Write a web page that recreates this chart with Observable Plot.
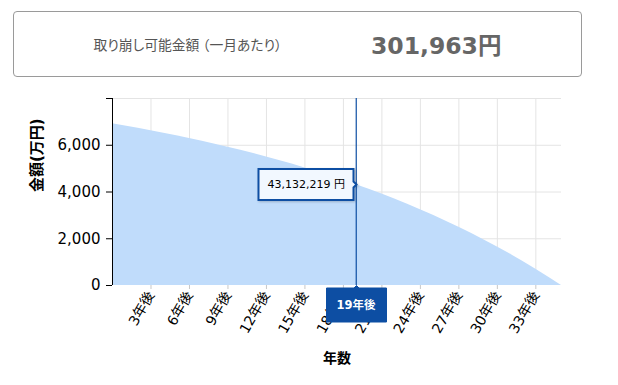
<!DOCTYPE html>
<html>
<head>
<meta charset="utf-8">
<script src="https://cdn.jsdelivr.net/npm/d3@7"></script>
<script src="https://cdn.jsdelivr.net/npm/@observablehq/plot@0.6"></script>
<style>
  html, body { margin: 0; padding: 0; background: #fff; width: 618px; height: 385px; overflow: hidden; }
  body { position: relative; font-family: "DejaVu Sans", "Noto Sans CJK JP", sans-serif; }
  #header {
    position: absolute; left: 13px; top: 11px; width: 567px; height: 64px;
    border: 1px solid #9a9a9a; border-radius: 4px;
    display: flex; align-items: center; justify-content: center; gap: 89px;
  }
  #header .lbl { font-family: "Noto Sans CJK JP", sans-serif; font-size: 13.8px; color: #555; font-feature-settings: "palt"; }
  #header .val { font-family: "DejaVu Sans", "Noto Sans CJK JP", sans-serif; font-size: 23.5px; font-weight: bold; color: #666; }
  #chart { position: absolute; left: 0; top: 85px; }
  .tip19 text, .tip19 tspan { fill: #fff !important; }
</style>
</head>
<body>
<div id="header"><span class="lbl">取り崩し可能金額 （一月あたり）</span><span class="val">301,963円</span></div>
<div id="chart"></div>
<script>
// Data (万円)
const years = [0,1,2,3,4,5,6,7,8,9,10,11,12,13,14,15,16,17,18,19,20,21,22,23,24,25,26,27,28,29,30,31,32,33,34,35];
const balance = [6925,6826,6724,6620,6512,6402,6287,6169,6045,5917,5783,5644,5500,5350,5194,5031,4862,4686,4504,4313.2219,4116,3910,3697,3474,3243,3003,2753,2492,2222,1941,1648,1344,1027,698,356,0];
const xTicks = [3,6,9,12,15,18,21,24,27,30,33];
const yTicks = [0,2000,4000,6000];
const yTop = 8000;
const selectedYear = 19;
const xLabel = "年数";
const yLabel = "金額(万円)";

const data = years.map((y, i) => ({year: y, value: balance[i]}));
const sel = data.filter(d => d.year === selectedYear);

const fontFam = '"DejaVu Sans", "Noto Sans CJK JP", sans-serif';

const chart = Plot.plot({
  width: 618,
  height: 300,
  marginTop: 13,
  marginBottom: 100,
  marginLeft: 112,
  marginRight: 57,
  style: {fontFamily: fontFam, color: "#000", background: "transparent", overflow: "visible"},
  x: {domain: [0, 35]},
  y: {domain: [0, yTop]},
  marks: [
    Plot.gridX(xTicks, {stroke: "#e4e4e4", strokeOpacity: 1}),
    Plot.gridY([...yTicks.filter(d => d > 0), yTop], {stroke: "#e4e4e4", strokeOpacity: 1}),
    Plot.areaY(data, {x: "year", y: "value", fill: "#c0dcfb", curve: "linear"}),
    Plot.axisX({ticks: xTicks, tickFormat: d => d + "年後", tickRotate: -60, tickSize: 4, tickPadding: 3, stroke: "#c8c8c8", fill: "#000", fontSize: 14, label: null}),
    Plot.axisY({ticks: yTicks, tickFormat: d3.format(","), tickSize: 6, tickPadding: 6, stroke: "#000", fill: "#000", fontSize: 15, label: null}),
    Plot.axisY({ticks: [yTop], text: null, tickSize: 6, stroke: "#000", label: null}),
    Plot.ruleX([0], {stroke: "#000", strokeWidth: 1}),
    Plot.ruleX(sel, {x: "year", stroke: "#0d4ea3", strokeWidth: 1.2}),
    Plot.text([xLabel], {frameAnchor: "bottom", dy: 77, fontSize: 14, fontWeight: "bold", fill: "#000"}),
    Plot.text([yLabel], {frameAnchor: "left", dx: -75, rotate: -90, fontSize: 15, fontWeight: "bold", fill: "#000"}),
    Plot.tip(sel, {
      x: "year", y: "value", anchor: "right",
      title: d => d3.format(",")(Math.round(d.value * 10000)) + " 円",
      fill: "#f2f8ff", stroke: "#0d4ea3", strokeWidth: 2,
      fontSize: 11, fontFamily: fontFam, textPadding: 9, pointerSize: 6,
      pathFilter: "drop-shadow(1px 1px 1px rgba(0,0,0,0.2))"
    }),
    Plot.tip(sel, {
      x: "year", y: () => 0, anchor: "top",
      title: d => d.year + "年後",
      fill: "#0d4ea3", stroke: "#0d4ea3", strokeWidth: 1,
      fontSize: 11.5, fontWeight: "bold", fontFamily: fontFam, textPadding: 10, pointerSize: 5,
      pathFilter: "none", className: "tip19"
    })
  ]
});
document.getElementById("chart").appendChild(chart);
</script>
</body>
</html>
